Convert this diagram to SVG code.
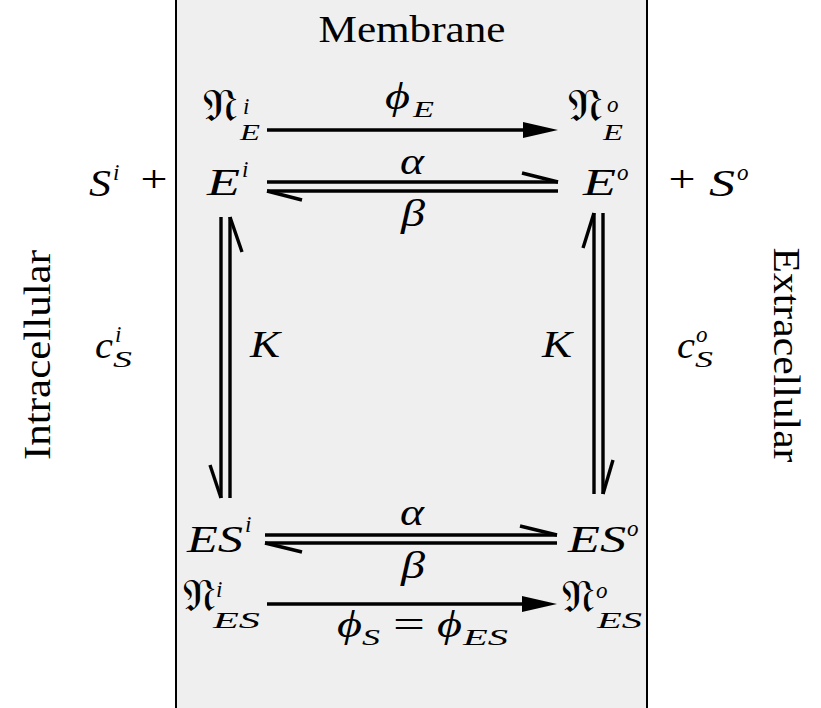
<svg xmlns="http://www.w3.org/2000/svg" width="821" height="708" viewBox="0 0 821 708">
<style>
.m{font-family:"Liberation Serif","DejaVu Serif",serif;font-style:italic;font-size:37px;fill:#000}
.r{font-family:"Liberation Serif","DejaVu Serif",serif;font-size:37px;fill:#000}
.s{font-size:23px}
.f{font-family:"DejaVu Serif","DejaVu Sans","Noto Sans",serif;font-style:normal;font-size:46px;fill:#000}
.ln{stroke:#000;stroke-width:3.4;fill:none}
.bd{stroke:#000;stroke-width:2;fill:none}
</style>
<rect x="176" y="0" width="471" height="708" fill="#efefef"/>
<line class="bd" x1="176" y1="0" x2="176" y2="708"/>
<line class="bd" x1="647" y1="0" x2="647" y2="708"/>
<g id="label-membrane"><text class="r" x="412" y="42" text-anchor="middle" textLength="187" lengthAdjust="spacingAndGlyphs">Membrane</text></g>
<g id="label-intracellular"><text class="r" transform="translate(50,355) rotate(-90)" text-anchor="middle" textLength="210" lengthAdjust="spacingAndGlyphs">Intracellular</text></g>
<g id="label-extracellular"><text class="r" transform="translate(774,355) rotate(90)" text-anchor="middle" textLength="215" lengthAdjust="spacingAndGlyphs">Extracellular</text></g>

<g id="node-NEi"><text class="f" x="203" y="121" textLength="35" lengthAdjust="spacingAndGlyphs">𝔑</text><text class="m s" x="243" y="114">i</text><text class="m s" x="240" y="140" textLength="20" lengthAdjust="spacingAndGlyphs">E</text></g>
<g id="node-NEo"><text class="f" x="568" y="121" textLength="35" lengthAdjust="spacingAndGlyphs">𝔑</text><text class="m s" x="607" y="112">o</text><text class="m s" x="603" y="140" textLength="20" lengthAdjust="spacingAndGlyphs">E</text></g>
<g id="node-Si"><text class="m" x="89" y="196" textLength="22" lengthAdjust="spacingAndGlyphs">S</text><text class="m s" x="113" y="180">i</text><text class="r" x="154" y="192" text-anchor="middle" textLength="27" lengthAdjust="spacingAndGlyphs">+</text></g>
<g id="node-Ei"><text class="m" x="207" y="195" textLength="33" lengthAdjust="spacingAndGlyphs">E</text><text class="m s" x="242" y="177">i</text></g>
<g id="node-Eo"><text class="m" x="583" y="195" textLength="33" lengthAdjust="spacingAndGlyphs">E</text><text class="m s" x="617" y="180">o</text></g>
<g id="node-So"><text class="r" x="682" y="192" text-anchor="middle" textLength="27" lengthAdjust="spacingAndGlyphs">+</text><text class="m" x="709" y="196" textLength="26" lengthAdjust="spacingAndGlyphs">S</text><text class="m s" x="737" y="180">o</text></g>
<g id="node-cSi"><text class="m" x="95" y="358" textLength="18" lengthAdjust="spacingAndGlyphs">c</text><text class="m s" x="115" y="342">i</text><text class="m s" x="113" y="367" textLength="19" lengthAdjust="spacingAndGlyphs">S</text></g>
<g id="node-cSo"><text class="m" x="677" y="358" textLength="18" lengthAdjust="spacingAndGlyphs">c</text><text class="m s" x="696" y="342">o</text><text class="m s" x="695" y="367" textLength="18" lengthAdjust="spacingAndGlyphs">S</text></g>
<g id="node-ESi"><text class="m" x="187" y="552" textLength="56" lengthAdjust="spacingAndGlyphs">ES</text><text class="m s" x="245" y="532">i</text></g>
<g id="node-ESo"><text class="m" x="568" y="552" textLength="58" lengthAdjust="spacingAndGlyphs">ES</text><text class="m s" x="627" y="536">o</text></g>
<g id="node-NESi"><text class="f" x="183" y="611" textLength="33" lengthAdjust="spacingAndGlyphs">𝔑</text><text class="m s" x="216" y="597">i</text><text class="m s" x="213" y="628" textLength="47" lengthAdjust="spacingAndGlyphs">ES</text></g>
<g id="node-NESo"><text class="f" x="562" y="612" textLength="33" lengthAdjust="spacingAndGlyphs">𝔑</text><text class="m s" x="596" y="598">o</text><text class="m s" x="597" y="628" textLength="45" lengthAdjust="spacingAndGlyphs">ES</text></g>

<g id="connectors">
<line class="ln" x1="267" y1="130" x2="525" y2="130"/>
<polygon points="523,122 558,130 523,138" fill="#000"/>
<line class="ln" x1="267" y1="604" x2="524" y2="604"/>
<polygon points="522,596 557,604 522,612" fill="#000"/>
<line class="ln" x1="267" y1="182" x2="558" y2="182"/>
<line class="ln" x1="267" y1="191" x2="558" y2="191"/>
<polyline class="ln" points="522,173 558,182"/>
<polyline class="ln" points="267,191 302,200"/>
<line class="ln" x1="265" y1="535" x2="557" y2="535"/>
<line class="ln" x1="265" y1="543" x2="557" y2="543"/>
<polyline class="ln" points="520,526 557,535"/>
<polyline class="ln" points="265,543 302,552"/>
<line class="ln" x1="221" y1="217" x2="221" y2="498"/>
<line class="ln" x1="230" y1="217" x2="230" y2="498"/>
<polyline class="ln" points="230,217 242,252"/>
<polyline class="ln" points="221,498 210,465"/>
<line class="ln" x1="594" y1="213" x2="594" y2="494"/>
<line class="ln" x1="603" y1="213" x2="603" y2="494"/>
<polyline class="ln" points="594,213 583,248"/>
<polyline class="ln" points="603,494 613,460"/>
</g>
<g id="edge-labels">
<text class="m" x="385" y="109" textLength="25" lengthAdjust="spacingAndGlyphs">ϕ</text><text class="m s" x="413" y="117" textLength="21" lengthAdjust="spacingAndGlyphs">E</text>
<text class="m" x="412" y="174" text-anchor="middle" textLength="24" lengthAdjust="spacingAndGlyphs">α</text>
<text class="m" x="413" y="226" text-anchor="middle" textLength="24" lengthAdjust="spacingAndGlyphs">β</text>
<text class="m" x="412" y="525" text-anchor="middle" textLength="24" lengthAdjust="spacingAndGlyphs">α</text>
<text class="m" x="413" y="578" text-anchor="middle" textLength="24" lengthAdjust="spacingAndGlyphs">β</text>
<text class="m" x="250" y="357" textLength="30" lengthAdjust="spacingAndGlyphs">K</text>
<text class="m" x="542" y="357" textLength="30" lengthAdjust="spacingAndGlyphs">K</text>
<text class="m" x="337" y="637" textLength="25" lengthAdjust="spacingAndGlyphs">ϕ</text><text class="m s" x="362" y="645" textLength="18" lengthAdjust="spacingAndGlyphs">S</text><text class="r" x="393" y="637" textLength="32" lengthAdjust="spacingAndGlyphs">=</text><text class="m" x="437" y="637" textLength="25" lengthAdjust="spacingAndGlyphs">ϕ</text><text class="m s" x="463" y="645" textLength="45" lengthAdjust="spacingAndGlyphs">ES</text>
</g>
</svg>
